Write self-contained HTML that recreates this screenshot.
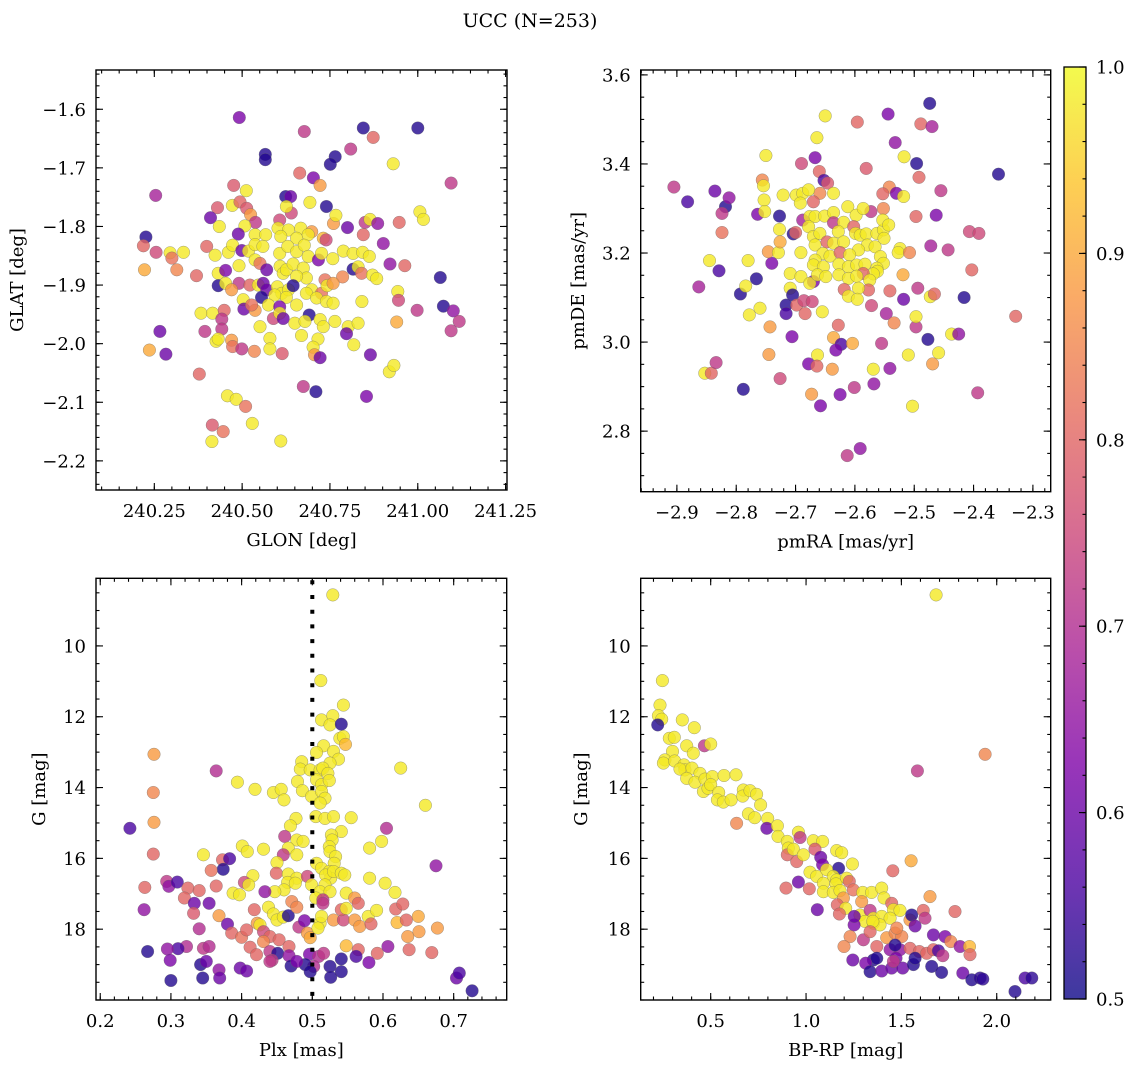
<!DOCTYPE html>
<html><head><meta charset="utf-8"><title>UCC (N=253)</title>
<style>
html,body{margin:0;padding:0;background:#fff;}
svg{display:block;font-family:"DejaVu Serif","Liberation Serif",serif;}
</style></head>
<body>
<svg id="fig" width="1136" height="1067" viewBox="0 0 1136 1067" xmlns="http://www.w3.org/2000/svg">
<text x="530" y="27" text-anchor="middle" font-size="19">UCC (N=253)</text>
</svg>
<script>
// ---- data: [x, y, membership probability] ----
const glonGlatPoints = [
[240.492,-1.614,.62],[240.677,-1.638,.72],[240.845,-1.632,.52],[241.0,-1.632,.52],[240.873,-1.648,.8],[240.809,-1.668,.72],
[240.566,-1.677,.52],[240.566,-1.686,.52],[240.765,-1.681,.52],[240.751,-1.694,.52],[240.93,-1.693,.98],[240.664,-1.709,.8],
[240.703,-1.717,.62],[240.722,-1.73,.88],[241.095,-1.726,.72],[240.254,-1.747,.68],[240.476,-1.73,.78],[240.512,-1.739,.98],
[240.624,-1.749,.52],[240.638,-1.749,.6],[240.693,-1.759,.98],[240.64,-1.777,.75],[240.626,-1.766,.98],[240.74,-1.766,.52],
[240.43,-1.768,.78],[240.472,-1.764,.98],[240.494,-1.758,.8],[240.513,-1.769,.78],[240.524,-1.78,.88],[240.41,-1.785,.6],
[240.538,-1.793,.72],[240.607,-1.789,.75],[240.435,-1.80,.98],[240.508,-1.799,.98],[240.602,-1.803,.98],[240.632,-1.806,.98],
[240.667,-1.803,.98],[240.698,-1.809,.88],[240.76,-1.795,.88],[240.767,-1.781,.98],[240.8,-1.802,.6],[240.85,-1.793,.72],
[240.864,-1.788,.98],[240.886,-1.795,.65],[240.947,-1.793,.8],[241.006,-1.775,.98],[241.016,-1.788,.98],[240.226,-1.818,.52],
[240.489,-1.813,.6],[240.537,-1.814,.98],[240.567,-1.814,.98],[240.61,-1.817,.98],[240.655,-1.82,.98],[240.688,-1.814,.98],
[240.731,-1.82,.92],[240.739,-1.823,.75],[240.845,-1.814,.8],[240.902,-1.829,.65],[240.219,-1.833,.8],[240.255,-1.844,.75],
[240.295,-1.845,.98],[240.3,-1.854,.82],[240.333,-1.844,.98],[240.314,-1.874,.85],[240.222,-1.874,.9],[240.399,-1.834,.8],
[240.423,-1.849,.98],[240.461,-1.844,.98],[240.473,-1.832,.98],[240.499,-1.841,.6],[240.518,-1.842,.98],[240.537,-1.831,.98],
[240.559,-1.834,.98],[240.537,-1.857,.98],[240.551,-1.863,.82],[240.57,-1.874,.6],[240.607,-1.846,.98],[240.63,-1.834,.98],
[240.655,-1.843,.98],[240.677,-1.832,.98],[240.688,-1.851,.98],[240.717,-1.857,.62],[240.726,-1.846,.98],[240.758,-1.855,.98],
[240.788,-1.842,.98],[240.816,-1.846,.98],[240.843,-1.844,.98],[240.862,-1.851,.98],[240.921,-1.864,.65],[240.963,-1.867,.8],
[240.816,-1.873,.52],[240.83,-1.869,.98],[240.84,-1.88,.82],[240.37,-1.884,.8],[240.432,-1.88,.98],[240.453,-1.875,.62],
[240.491,-1.867,.98],[240.608,-1.868,.98],[240.617,-1.88,.98],[240.626,-1.874,.98],[240.645,-1.864,.98],[240.674,-1.871,.98],
[240.683,-1.888,.98],[240.655,-1.885,.98],[240.786,-1.886,.85],[240.871,-1.883,.98],[240.883,-1.889,.98],[240.432,-1.901,.52],
[240.453,-1.897,.98],[240.491,-1.897,.72],[240.47,-1.908,.88],[240.522,-1.9,.8],[240.546,-1.9,.98],[240.56,-1.897,.6],
[240.57,-1.908,.6],[240.555,-1.921,.52],[240.6,-1.903,.98],[240.613,-1.914,.98],[240.632,-1.908,.98],[240.645,-1.901,.52],
[240.698,-1.908,.98],[240.726,-1.914,.82],[240.736,-1.891,.82],[240.742,-1.901,.98],[240.759,-1.897,.88],[240.593,-1.917,.98],
[240.626,-1.921,.98],[240.655,-1.934,.98],[240.683,-1.914,.98],[240.712,-1.922,.98],[240.74,-1.928,.98],[240.759,-1.931,.98],
[240.503,-1.925,.98],[240.505,-1.941,.6],[240.537,-1.943,.88],[240.527,-1.934,.82],[240.575,-1.934,.98],[240.589,-1.957,.75],
[240.607,-1.937,.62],[240.607,-1.948,.98],[240.617,-1.957,.6],[240.691,-1.951,.52],[240.65,-1.965,.98],[240.679,-1.962,.98],
[240.722,-1.959,.98],[240.731,-1.971,.98],[240.764,-1.962,.98],[240.802,-1.971,.98],[240.797,-1.983,.6],[240.83,-1.965,.98],
[240.841,-1.928,.98],[240.943,-1.911,.98],[240.945,-1.926,.75],[240.998,-1.943,.72],[241.073,-1.936,.52],[241.064,-1.887,.52],
[241.101,-1.944,.65],[241.118,-1.962,.72],[241.095,-1.978,.72],[240.94,-1.963,.9],[240.383,-1.948,.98],[240.416,-1.948,.98],
[240.449,-1.943,.8],[240.442,-1.958,.72],[240.442,-1.975,.72],[240.394,-1.979,.72],[240.266,-1.979,.6],[240.551,-1.971,.98],
[240.579,-1.991,.98],[240.579,-2.009,.98],[240.669,-1.986,.98],[240.716,-1.992,.98],[240.702,-2.006,.98],[240.706,-2.019,.88],
[240.722,-2.024,.6],[240.818,-2.002,.98],[240.865,-2.019,.6],[240.919,-2.048,.98],[240.932,-2.037,.98],[240.426,-1.996,.98],
[240.432,-1.992,.98],[240.47,-1.994,.88],[240.473,-2.005,.82],[240.499,-2.009,.72],[240.535,-2.013,.85],[240.614,-2.017,.78],
[240.236,-2.011,.9],[240.283,-2.018,.6],[240.378,-2.052,.8],[240.674,-2.073,.72],[240.71,-2.082,.52],[240.854,-2.09,.62],
[240.458,-2.089,.98],[240.483,-2.095,.98],[240.51,-2.107,.82],[240.529,-2.136,.98],[240.415,-2.139,.78],[240.446,-2.15,.82],
[240.414,-2.167,.98],[240.61,-2.166,.98]
];
const pmraPmdePoints = [
[-2.474,3.536,.52],[-2.65,3.508,.98],[-2.596,3.494,.8],[-2.544,3.512,.62],[-2.489,3.49,.8],[-2.47,3.484,.68],[-2.664,3.459,.98],
[-2.532,3.448,.65],[-2.75,3.419,.98],[-2.517,3.416,.98],[-2.496,3.401,.52],[-2.69,3.401,.75],[-2.667,3.414,.62],[-2.581,3.39,.78],
[-2.358,3.377,.52],[-2.905,3.348,.72],[-2.756,3.364,.85],[-2.754,3.351,.98],[-2.66,3.383,.8],[-2.652,3.363,.56],[-2.646,3.357,.78],
[-2.636,3.334,.98],[-2.659,3.334,.85],[-2.492,3.37,.8],[-2.455,3.34,.72],[-2.882,3.315,.56],[-2.836,3.339,.6],[-2.818,3.304,.52],
[-2.812,3.324,.65],[-2.824,3.289,.72],[-2.824,3.246,.82],[-2.764,3.287,.62],[-2.753,3.319,.98],[-2.752,3.293,.98],[-2.727,3.283,.52],
[-2.721,3.33,.98],[-2.699,3.33,.98],[-2.688,3.334,.98],[-2.678,3.342,.98],[-2.67,3.315,.8],[-2.692,3.312,.98],[-2.542,3.348,.85],
[-2.53,3.334,.62],[-2.518,3.327,.98],[-2.553,3.333,.8],[-2.552,3.3,.85],[-2.573,3.293,.72],[-2.497,3.282,.8],[-2.463,3.285,.62],
[-2.407,3.248,.75],[-2.391,3.244,.75],[-2.472,3.216,.68],[-2.443,3.207,.72],[-2.845,3.183,.98],[-2.829,3.16,.56],[-2.863,3.124,.68],
[-2.78,3.183,.98],[-2.766,3.142,.52],[-2.793,3.108,.52],[-2.784,3.126,.98],[-2.74,3.177,.62],[-2.746,3.203,.88],[-2.729,3.201,.98],
[-2.726,3.225,.9],[-2.727,3.253,.98],[-2.704,3.243,.52],[-2.7,3.246,.8],[-2.688,3.274,.68],[-2.676,3.282,.98],[-2.667,3.282,.98],
[-2.651,3.283,.98],[-2.636,3.291,.98],[-2.636,3.268,.72],[-2.619,3.269,.98],[-2.612,3.304,.98],[-2.598,3.285,.98],[-2.586,3.3,.98],
[-2.602,3.259,.8],[-2.678,3.259,.98],[-2.67,3.237,.98],[-2.659,3.244,.98],[-2.667,3.218,.98],[-2.647,3.225,.8],[-2.628,3.248,.98],
[-2.636,3.222,.98],[-2.619,3.225,.98],[-2.599,3.244,.98],[-2.591,3.24,.98],[-2.581,3.243,.98],[-2.563,3.244,.98],[-2.552,3.252,.98],
[-2.553,3.274,.98],[-2.543,3.263,.98],[-2.551,3.233,.98],[-2.579,3.218,.98],[-2.566,3.214,.98],[-2.594,3.207,.98],[-2.524,3.21,.98],
[-2.527,3.201,.98],[-2.508,3.201,.85],[-2.691,3.201,.98],[-2.654,3.199,.98],[-2.642,3.193,.98],[-2.625,3.201,.8],[-2.609,3.196,.98],
[-2.557,3.192,.98],[-2.552,3.177,.98],[-2.667,3.184,.98],[-2.67,3.173,.98],[-2.653,3.169,.98],[-2.627,3.175,.98],[-2.611,3.169,.98],
[-2.597,3.173,.98],[-2.583,3.175,.98],[-2.563,3.166,.98],[-2.562,3.159,.98],[-2.569,3.153,.98],[-2.586,3.154,.8],[-2.709,3.154,.98],
[-2.691,3.147,.98],[-2.67,3.136,.62],[-2.676,3.132,.98],[-2.663,3.151,.98],[-2.649,3.147,.98],[-2.627,3.151,.98],[-2.611,3.143,.98],
[-2.597,3.148,.98],[-2.575,3.139,.98],[-2.577,3.117,.8],[-2.618,3.118,.8],[-2.611,3.103,.98],[-2.594,3.121,.98],[-2.596,3.096,.98],
[-2.519,3.151,.9],[-2.709,3.121,.98],[-2.705,3.106,.52],[-2.716,3.083,.52],[-2.716,3.064,.56],[-2.698,3.083,.8],[-2.686,3.093,.75],
[-2.672,3.091,.75],[-2.684,3.064,.8],[-2.655,3.068,.98],[-2.778,3.061,.98],[-2.76,3.076,.98],[-2.743,3.034,.88],[-2.706,3.012,.62],
[-2.745,2.972,.88],[-2.636,3.01,.9],[-2.628,3.038,.8],[-2.623,2.995,.56],[-2.632,2.982,.62],[-2.604,2.997,.9],[-2.663,2.971,.98],
[-2.678,2.951,.62],[-2.664,2.946,.8],[-2.638,2.939,.88],[-2.572,3.082,.75],[-2.541,3.115,.8],[-2.547,3.064,.68],[-2.534,3.043,.85],
[-2.518,3.096,.6],[-2.494,3.121,.72],[-2.473,3.102,.98],[-2.466,3.108,.8],[-2.497,3.034,.72],[-2.497,3.057,.98],[-2.416,3.1,.52],
[-2.403,3.162,.8],[-2.477,3.006,.52],[-2.459,2.976,.98],[-2.469,2.951,.88],[-2.437,3.018,.98],[-2.425,3.018,.65],[-2.329,3.058,.8],
[-2.555,2.997,.72],[-2.51,2.971,.98],[-2.569,2.939,.98],[-2.541,2.941,.65],[-2.568,2.906,.65],[-2.601,2.898,.72],[-2.625,2.882,.62],
[-2.673,2.883,.88],[-2.658,2.857,.62],[-2.503,2.856,.98],[-2.393,2.886,.72],[-2.726,2.918,.75],[-2.853,2.93,.98],[-2.842,2.93,.8],
[-2.834,2.954,.72],[-2.788,2.894,.52],[-2.613,2.745,.72],[-2.591,2.761,.65]
];
const plxGPoints = [
[.529,8.56,.98],[.512,10.98,.98],[.544,11.67,.98],[.513,12.09,.98],[.529,11.97,.98],[.525,12.23,.98],[.541,12.21,.52],
[.539,12.61,.98],[.544,12.56,.98],[.547,12.78,.92],[.516,12.82,.98],[.506,13.01,.98],[.53,12.98,.98],[.537,13.2,.98],[.525,13.31,.98],
[.485,13.27,.98],[.483,13.48,.98],[.497,13.5,.98],[.511,13.5,.98],[.515,13.45,.98],[.522,13.6,.98],[.506,13.78,.98],[.513,13.92,.98],
[.524,13.8,.98],[.479,13.83,.98],[.486,14.09,.98],[.499,14.25,.98],[.513,14.11,.98],[.518,14.3,.98],[.511,14.44,.98],[.625,13.45,.98],
[.364,13.53,.7],[.394,13.85,.98],[.419,14.05,.98],[.445,14.14,.98],[.456,14.05,.98],[.46,14.35,.98],[.66,14.5,.98],[.276,13.06,.88],
[.275,14.14,.85],[.276,14.98,.88],[.242,15.15,.56],[.275,15.88,.8],[.477,14.87,.98],[.469,15.08,.98],[.505,14.82,.98],[.518,14.87,.98],
[.53,14.82,.98],[.555,14.85,.98],[.541,15.24,.98],[.527,15.34,.98],[.528,15.48,.98],[.524,15.67,.98],[.525,15.81,.98],[.533,15.95,.98],
[.531,16.14,.98],[.461,15.38,.72],[.478,15.48,.98],[.487,15.52,.98],[.466,15.71,.98],[.478,15.9,.98],[.459,15.9,.72],[.401,15.65,.98],
[.408,15.81,.98],[.431,15.74,.98],[.346,15.9,.98],[.373,16.04,.8],[.383,16.01,.56],[.374,16.31,.52],[.45,16.12,.98],[.506,16.14,.98],
[.513,16.28,.98],[.524,16.37,.98],[.526,16.56,.98],[.519,16.47,.98],[.53,16.37,.98],[.541,16.42,.98],[.546,16.47,.98],[.581,16.56,.98],
[.605,15.15,.7],[.581,15.71,.98],[.598,15.52,.98],[.675,16.21,.65],[.603,16.7,.98],[.617,16.96,.98],[.449,16.42,.8],[.466,16.44,.98],
[.478,16.56,.98],[.416,16.49,.98],[.404,16.68,.75],[.41,16.75,.98],[.465,16.68,.98],[.476,16.7,.98],[.46,16.89,.98],[.447,16.94,.98],
[.433,16.94,.65],[.493,16.51,.75],[.499,16.75,.98],[.518,16.75,.98],[.511,16.94,.98],[.525,16.94,.98],[.505,17.12,.98],[.515,17.17,.72],
[.388,16.98,.98],[.397,17.03,.98],[.263,16.82,.8],[.294,16.65,.72],[.297,16.79,.65],[.309,16.67,.56],[.324,16.84,.8],[.34,16.91,.8],
[.319,17.12,.8],[.333,17.27,.6],[.354,17.27,.6],[.364,16.78,.8],[.357,16.34,.82],[.262,17.45,.65],[.332,17.55,.78],[.368,17.62,.88],
[.34,17.99,.7],[.38,17.86,.6],[.418,17.45,.8],[.438,17.38,.98],[.445,17.57,.98],[.45,17.74,.98],[.459,17.66,.98],[.466,17.62,.52],
[.471,17.22,.85],[.478,17.38,.85],[.422,17.83,.88],[.426,17.88,.98],[.386,18.11,.8],[.4,18.23,.82],[.407,18.02,.8],[.431,18.07,.75],
[.44,18.21,.8],[.453,18.3,.8],[.431,18.35,.85],[.412,18.51,.8],[.421,18.72,.8],[.44,18.63,.72],[.451,18.68,.52],[.443,18.88,.72],
[.467,18.49,.8],[.467,18.75,.65],[.481,17.94,.72],[.489,17.76,.62],[.493,18.11,.88],[.497,18.24,.9],[.511,17.83,.98],[.513,17.64,.98],
[.508,17.97,.98],[.515,17.27,.72],[.53,17.74,.88],[.544,17.74,.75],[.541,17.45,.8],[.548,16.98,.98],[.548,17.41,.98],[.56,17.12,.88],
[.565,17.27,.8],[.56,17.74,.88],[.567,17.92,.88],[.579,17.64,.98],[.583,17.85,.8],[.591,17.47,.98],[.618,17.43,.8],[.628,17.29,.8],
[.62,17.81,.92],[.633,17.74,.8],[.635,18.21,.88],[.65,17.64,.9],[.651,18.07,.88],[.677,17.97,.88],[.548,18.47,.92],[.565,18.58,.8],
[.562,18.77,.56],[.592,18.68,.8],[.58,18.94,.62],[.637,18.58,.8],[.669,18.66,.8],[.607,18.49,.65],[.496,18.71,.62],[.509,18.77,.7],
[.516,18.68,.72],[.502,19.05,.7],[.49,19.0,.52],[.497,19.2,.52],[.525,19.05,.52],[.541,18.84,.52],[.541,19.2,.52],[.526,19.36,.52],
[.47,19.04,.52],[.478,18.91,.62],[.44,18.91,.72],[.398,19.1,.6],[.407,19.18,.6],[.368,19.15,.65],[.369,19.38,.6],[.345,19.38,.52],
[.342,19.0,.52],[.35,18.91,.6],[.346,18.54,.72],[.354,18.49,.7],[.322,18.49,.7],[.31,18.55,.56],[.295,18.56,.65],[.299,18.88,.62],
[.3,19.45,.52],[.267,18.63,.52],[.704,19.38,.6],[.708,19.24,.56],[.726,19.74,.52]
];
const bprpGPoints = [
[1.682,8.56,.98],[.247,10.98,.98],[.234,11.67,.98],[.226,11.97,.98],[.243,12.07,.98],[.222,12.23,.52],[.351,12.09,.98],[.414,12.31,.98],
[.283,12.61,.98],[.309,12.58,.98],[.374,12.82,.98],[.467,12.82,.72],[.5,12.77,.98],[.3,12.98,.98],[.409,13.03,.98],[.26,13.22,.98],
[.252,13.31,.98],[.311,13.25,.98],[.36,13.36,.98],[.365,13.5,.98],[.339,13.48,.98],[.402,13.45,.98],[.374,13.74,.98],[.444,13.6,.98],
[.418,13.85,.98],[.47,13.76,.98],[.509,13.69,.98],[.57,13.66,.98],[.633,13.64,.98],[.462,14.11,.98],[.486,14.02,.98],[.5,13.92,.98],
[.542,14.14,.98],[.535,14.35,.98],[.566,14.41,.98],[.607,14.35,.98],[.671,14.07,.98],[.668,14.24,.98],[.706,14.09,.98],[.741,14.19,.98],
[.762,14.49,.98],[.698,14.74,.98],[.731,14.85,.98],[.799,14.87,.98],[.636,15.01,.85],[.794,15.15,.6],[.85,15.08,.98],[.853,15.38,.98],
[.96,15.26,.98],[.969,15.41,.72],[.902,15.52,.98],[.907,15.71,.98],[.902,15.9,.8],[.951,16.09,.8],[.934,15.74,.98],[.986,15.9,.98],
[1.038,15.5,.98],[1.087,15.52,.98],[1.047,15.74,.78],[1.077,15.97,.6],[1.087,16.18,.62],[1.161,15.78,.98],[1.187,15.84,.98],[1.243,16.16,.98],
[1.171,16.28,.52],[1.021,16.39,.98],[1.056,16.51,.98],[1.108,16.32,.98],[1.143,16.51,.98],[1.161,16.61,.98],[1.091,16.7,.98],[1.157,16.72,.98],
[1.213,16.56,.98],[1.227,16.65,.8],[1.091,16.94,.98],[1.143,16.96,.98],[1.178,16.91,.98],[1.196,17.12,.88],[1.164,17.31,.8],[1.248,16.89,.82],
[1.297,16.96,.98],[1.344,16.96,.98],[1.397,16.84,.98],[1.292,17.22,.88],[1.409,17.12,.98],[1.449,17.27,.8],[1.458,17.45,.98],[1.493,17.47,.98],
[1.208,17.41,.98],[1.283,17.6,.98],[1.336,17.47,.72],[1.353,17.69,.98],[1.397,17.64,.98],[1.441,17.69,.98],[1.309,17.78,.98],[1.353,17.83,.98],
[1.388,17.88,.98],[1.35,17.78,.98],[1.252,17.88,.62],[1.253,17.64,.6],[1.175,17.57,.8],[1.059,17.45,.6],[.895,16.84,.8],[.96,16.67,.6],
[1.017,16.86,.8],[1.231,18.21,.85],[1.199,18.49,.85],[1.301,18.3,.72],[1.336,18.07,.8],[1.371,18.49,.8],[1.423,18.24,.88],[1.467,18.11,.85],
[1.502,18.21,.85],[1.476,17.97,.85],[1.441,18.58,.65],[1.493,18.58,.65],[1.545,18.54,.8],[1.545,17.74,.88],[1.554,17.6,.52],[1.572,17.91,.6],
[1.615,17.47,.8],[1.624,17.69,.72],[1.65,17.08,.88],[1.551,16.07,.9],[1.455,16.35,.8],[1.781,17.5,.8],[1.584,13.53,.72],[1.939,13.06,.85],
[1.594,18.63,.8],[1.633,18.68,.8],[1.668,18.58,.8],[1.694,18.61,.56],[1.717,18.75,.72],[1.668,18.16,.6],[1.729,18.21,.62],[1.759,18.35,.85],
[1.808,18.49,.65],[1.857,18.49,.92],[1.86,18.72,.8],[1.353,18.87,.52],[1.371,18.82,.52],[1.245,18.87,.6],[1.313,18.96,.62],[1.336,19.2,.52],
[1.397,19.18,.6],[1.449,19.1,.6],[1.472,18.82,.62],[1.507,19.1,.6],[1.563,19.0,.52],[1.572,18.82,.52],[1.659,19.05,.52],[1.711,19.22,.52],
[1.822,19.24,.6],[1.869,19.43,.52],[1.913,19.38,.53],[1.927,19.41,.53],[2.096,19.76,.52],[2.149,19.38,.56],[2.184,19.38,.53],[1.467,18.45,.52],
[1.458,18.91,.72]
];
const glonTicks = [240.25, 240.50, 240.75, 241.00, 241.25];
const glonTickLabels = ["240.25", "240.50", "240.75", "241.00", "241.25"];
const glatTicks = [-1.6, -1.7, -1.8, -1.9, -2.0, -2.1, -2.2];
const pmraTicks = [-2.9, -2.8, -2.7, -2.6, -2.5, -2.4, -2.3];
const pmdeTicks = [3.6, 3.4, 3.2, 3.0, 2.8];
const plxTicks = [0.2, 0.3, 0.4, 0.5, 0.6, 0.7];
const gTicks = [10, 12, 14, 16, 18];
const bprpTicks = [0.5, 1.0, 1.5, 2.0];
const cbarTicks = [0.5, 0.6, 0.7, 0.8, 0.9, 1.0];
const plxCut = [0.5];

const NS = "http://www.w3.org/2000/svg";
const svg = document.getElementById("fig");
const FS = 18;
const plasmaStops = ["#0d0887","#4c02a1","#7e03a8","#a92395","#cc4778","#e56b5d","#f89441","#fdc328","#f0f921"];
function hex(h){return [parseInt(h.substr(1,2),16),parseInt(h.substr(3,2),16),parseInt(h.substr(5,2),16)];}
function plasma(v){
  let t = Math.max(0, Math.min(1, (v - 0.5) / 0.5));
  const n = plasmaStops.length - 1, i = Math.min(n - 1, Math.floor(t * n)), f = t * n - i;
  const a = hex(plasmaStops[i]), b = hex(plasmaStops[i + 1]);
  return "rgb(" + a.map((c, k) => Math.round(c + (b[k] - c) * f)).join(",") + ")";
}
function mk(tag, attrs, parent){
  const e = document.createElementNS(NS, tag);
  for (const k in attrs) e.setAttribute(k, attrs[k]);
  (parent || svg).appendChild(e);
  return e;
}
function fmt(v, d){ const s = v.toFixed(d); return s.replace("-", "\u2212"); }

function panel(cfg){
  const g = mk("g", {});
  
  
  const sx = v => cfg.L + (v - cfg.xd[0]) / (cfg.xd[1] - cfg.xd[0]) * (cfg.R - cfg.L);
  const sy = cfg.yInv
    ? v => cfg.T + (v - cfg.yd[0]) / (cfg.yd[1] - cfg.yd[0]) * (cfg.B - cfg.T)
    : v => cfg.B - (v - cfg.yd[0]) / (cfg.yd[1] - cfg.yd[0]) * (cfg.B - cfg.T);
  const pg = mk("g", {}, g);
  
  
  cfg.data.forEach(d => {
    const c = mk("circle", {cx: sx(d[0]).toFixed(1), cy: sy(d[1]).toFixed(1), r: 6.3, fill: plasma(d[2]), "fill-opacity": 0.8, stroke: "#666", "stroke-opacity": 0.6, "stroke-width": 0.5}, pg);
    
    
  });
  if (cfg.vline) cfg.vline.forEach(v => {
    const l = mk("line", {x1: sx(v), x2: sx(v), y1: cfg.T + 2, y2: cfg.B, stroke: "#000", "stroke-width": 4, "stroke-dasharray": "4 10.7"}, g);
    
    
  });
  const fr = mk("rect", {x: cfg.L, y: cfg.T, width: cfg.R - cfg.L, height: cfg.B - cfg.T, fill: "none", stroke: "#000", "stroke-width": 1.4}, g);
  
  
  const tk = mk("g", {stroke: "#000", "stroke-width": 1.1}, g);
  
  
  const xs = cfg.xMinor, ys = cfg.yMinor;
  for (let v = Math.ceil(cfg.xd[0] / xs) * xs; v <= cfg.xd[1] + 1e-9; v += xs) {
    const x = sx(v);
    mk("line", {x1: x, x2: x, y1: cfg.B, y2: cfg.B - 3.5}, tk);
    mk("line", {x1: x, x2: x, y1: cfg.T, y2: cfg.T + 3.5}, tk);
  }
  const ylo = Math.min(cfg.yd[0], cfg.yd[1]), yhi = Math.max(cfg.yd[0], cfg.yd[1]);
  for (let v = Math.ceil(ylo / ys) * ys; v <= yhi + 1e-9; v += ys) {
    const y = sy(v);
    mk("line", {x1: cfg.L, x2: cfg.L + 3.5, y1: y, y2: y}, tk);
    mk("line", {x1: cfg.R, x2: cfg.R - 3.5, y1: y, y2: y}, tk);
  }
  cfg.xTicks.forEach((v, i) => {
    const x = sx(v);
    mk("line", {x1: x, x2: x, y1: cfg.B, y2: cfg.B - 7}, tk);
    mk("line", {x1: x, x2: x, y1: cfg.T, y2: cfg.T + 7}, tk);
    const t = mk("text", {x: x, y: cfg.B + 27, "text-anchor": "middle", "font-size": FS}, g);
    t.textContent = cfg.xLabels ? cfg.xLabels[i] : fmt(v, cfg.xDec);
    
    
  });
  cfg.yTicks.forEach(v => {
    const y = sy(v);
    mk("line", {x1: cfg.L, x2: cfg.L + 7, y1: y, y2: y}, tk);
    mk("line", {x1: cfg.R, x2: cfg.R - 7, y1: y, y2: y}, tk);
    const t = mk("text", {x: cfg.L - 10, y: y + 6.5, "text-anchor": "end", "font-size": FS}, g);
    t.textContent = fmt(v, cfg.yDec);
    
    
  });
  const xt = mk("text", {x: (cfg.L + cfg.R) / 2, y: cfg.B + 56, "text-anchor": "middle", "font-size": FS}, g);
  xt.textContent = cfg.xTitle;
  
  
  const yc = (cfg.T + cfg.B) / 2;
  const yt = mk("text", {x: cfg.yTitleX, y: yc, "text-anchor": "middle", "font-size": FS, transform: "rotate(-90 " + cfg.yTitleX + " " + yc + ")"}, g);
  yt.textContent = cfg.yTitle;
  
  
}

panel({name: "glon-glat-panel", data: glonGlatPoints, L: 96, R: 507, T: 70, B: 490,
  xd: [240.084, 241.254], yd: [-2.2497, -1.533], xTicks: glonTicks, xLabels: glonTickLabels, yTicks: glatTicks, yDec: 1,
  xMinor: 0.05, yMinor: 0.02, xTitle: "GLON [deg]", yTitle: "GLAT [deg]", yTitleX: 23});
panel({name: "pm-panel", data: pmraPmdePoints, L: 640.7, R: 1050.7, T: 70, B: 491.7,
  xd: [-2.961, -2.270], yd: [2.664, 3.611], xTicks: pmraTicks, xDec: 1, yTicks: pmdeTicks, yDec: 1,
  xMinor: 0.02, yMinor: 0.05, xTitle: "pmRA [mas/yr]", yTitle: "pmDE [mas/yr]", yTitleX: 584});
panel({name: "plx-g-panel", data: plxGPoints, L: 96, R: 506.7, T: 578.3, B: 1000,
  xd: [0.194, 0.775], yd: [8.09, 20.0], yInv: true, xTicks: plxTicks, xDec: 1, yTicks: gTicks, yDec: 0,
  xMinor: 0.02, yMinor: 0.5, xTitle: "Plx [mas]", yTitle: "G [mag]", yTitleX: 45, vline: plxCut});
panel({name: "cmd-panel", data: bprpGPoints, L: 640.7, R: 1050.7, T: 578.3, B: 1000,
  xd: [0.133, 2.283], yd: [8.09, 20.0], yInv: true, xTicks: bprpTicks, xDec: 1, yTicks: gTicks, yDec: 0,
  xMinor: 0.1, yMinor: 0.5, xTitle: "BP-RP [mag]", yTitle: "G [mag]", yTitleX: 587});

(function(){
  const L = 1064, R = 1086, T = 67, B = 999;
  const g = mk("g", {});
  
  
  const defs = mk("defs", {}, g);
  const lg = mk("linearGradient", {id: "cbgrad", x1: 0, y1: 1, x2: 0, y2: 0}, defs);
  plasmaStops.forEach((c, i) => mk("stop", {offset: (i / (plasmaStops.length - 1)), "stop-color": c, "stop-opacity": 0.8}, lg));
  mk("rect", {x: L, y: T, width: R - L, height: B - T, fill: "url(#cbgrad)", stroke: "#000", "stroke-width": 1.3}, g);
  const sy = v => B - (v - 0.5) / 0.5 * (B - T);
  for (let v = 0.5; v <= 1.0001; v += 0.02) mk("line", {x1: R, x2: R - 3.5, y1: sy(v), y2: sy(v), stroke: "#000", "stroke-width": 1.1}, g);
  cbarTicks.forEach(v => {
    mk("line", {x1: R, x2: R - 7, y1: sy(v), y2: sy(v), stroke: "#000", "stroke-width": 1.1}, g);
    const t = mk("text", {x: R + 10, y: sy(v) + 6.5, "font-size": FS}, g);
    t.textContent = v.toFixed(1);
    
    
  });
})();
</script>
</body></html>
